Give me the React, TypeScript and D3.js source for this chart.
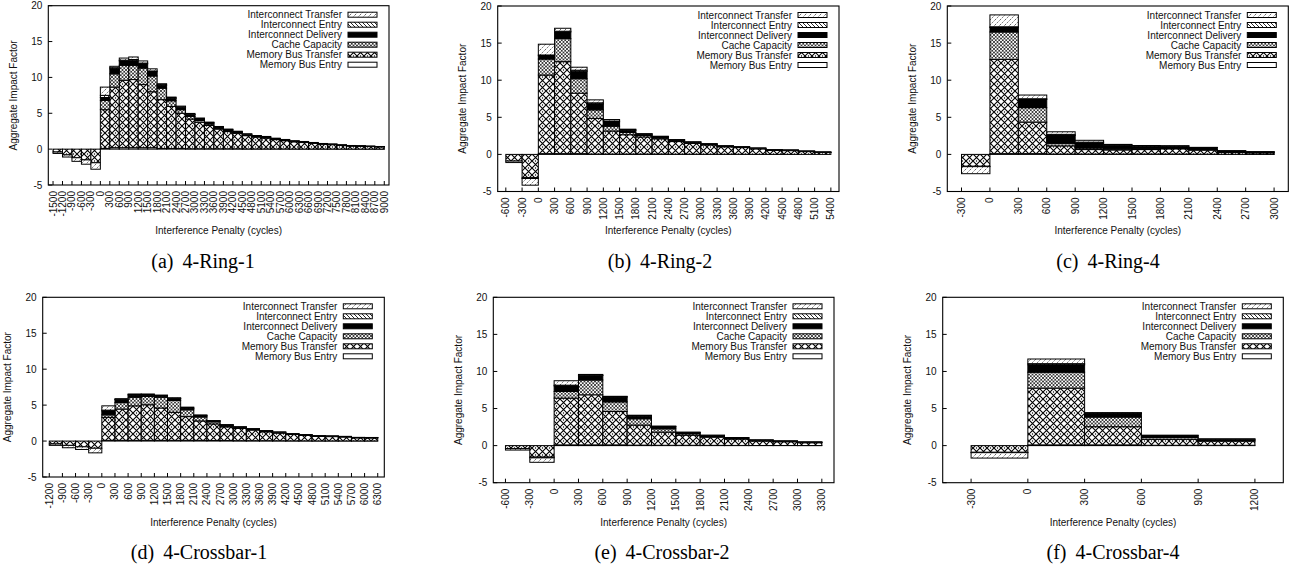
import * as d3 from "d3";

// stacking order, bottom to top
const keys = ["mbe", "mbt", "cc", "id", "ie", "it"];
const legendKeys = ["it", "ie", "id", "cc", "mbt", "mbe"];
const legendNames = [
  "Interconnect Transfer",
  "Interconnect Entry",
  "Interconnect Delivery",
  "Cache Capacity",
  "Memory Bus Transfer",
  "Memory Bus Entry",
];
const yTicks = [-5, 0, 5, 10, 15, 20];

// (a) 4-Ring-1
const ringOneTicks = [-1500, -1200, -900, -600, -300, 0, 300, 600, 900, 1200, 1500, 1800, 2100, 2400, 2700, 3000, 3300, 3600, 3900, 4200, 4500, 4800, 5100, 5400, 5700, 6000, 6300, 6600, 6900, 7200, 7500, 7800, 8100, 8400, 8700, 9000];
const ringOneMbe = [0, 0, 0, 0, 0, 0.1, 0.2, 0.2, 0.2, 0.2, 0.2, 0.1, 0.1, 0.1, 0.05, 0.05, 0.05, 0.05, 0.05, 0.05, 0.03, 0.03, 0.03, 0.03, 0.03, 0.02, 0.02, 0.02, 0.02, 0.02, 0.01, 0.01, 0.01, 0.01, 0.01];
const ringOneMbt = [-0.4, -0.8, -1.2, -1.5, -1.9, 5.4, 8.45, 9.4, 9.5, 8.8, 7.8, 6.8, 5.85, 4.9, 4.15, 3.7, 3.25, 2.75, 2.4, 2.15, 1.85, 1.65, 1.5, 1.3, 1.15, 1.0, 0.9, 0.8, 0.68, 0.6, 0.5, 0.43, 0.4, 0.35, 0.31];
const ringOneCc = [0, 0, 0, 0, 0, 1.3, 1.85, 2.1, 2.0, 2.3, 2.2, 1.6, 0.8, 0.5, 0.35, 0.25, 0.2, 0.15, 0.12, 0.1, 0.1, 0.08, 0.08, 0.07, 0.06, 0.05, 0.05, 0.04, 0.03, 0.03, 0.03, 0.02, 0.02, 0.02, 0.02];
const ringOneId = [0, 0, 0, 0, 0, 0.4, 0.7, 0.6, 0.7, 0.6, 0.6, 0.4, 0.35, 0.3, 0.25, 0.2, 0.15, 0.13, 0.12, 0.1, 0.08, 0.07, 0.07, 0.06, 0.05, 0.05, 0.05, 0.04, 0.03, 0.03, 0.03, 0.03, 0.03, 0.03, 0.02];
const ringOneIe = [0, 0, 0, 0, 0, 0.3, 0.15, 0.1, 0.1, 0.1, 0.1, 0.07, 0.06, 0.05, 0.05, 0.04, 0.04, 0.03, 0.03, 0.03, 0.03, 0.02, 0.02, 0.02, 0.02, 0.02, 0.02, 0.01, 0.01, 0.01, 0.01, 0.01, 0, 0, 0];
const ringOneIt = [-0.2, -0.3, -0.5, -0.6, -0.9, 1.15, 0.2, 0.3, 0.35, 0.3, 0.3, 0.15, 0.1, 0.15, 0.13, 0.1, 0.08, 0.05, 0.08, 0.07, 0.05, 0.05, 0.07, 0.05, 0.04, 0.02, 0.03, 0.02, 0.02, 0.01, 0.02, 0.01, 0.01, 0.01, 0.01];

// (b) 4-Ring-2
const ringTwoTicks = [-600, -300, 0, 300, 600, 900, 1200, 1500, 1800, 2100, 2400, 2700, 3000, 3300, 3600, 3900, 4200, 4500, 4800, 5100, 5400];
const ringTwoMbe = [0, 0, 0.1, 0.1, 0.1, 0.05, 0.05, 0.05, 0.05, 0.05, 0.03, 0.03, 0.02, 0.02, 0.02, 0.01, 0.01, 0.01, 0, 0];
const ringTwoMbt = [-0.9, -3.15, 10.6, 12.4, 8.15, 4.8, 3.1, 2.6, 2.3, 2.05, 1.7, 1.45, 1.25, 1.0, 0.9, 0.74, 0.53, 0.5, 0.38, 0.26];
const ringTwoCc = [0, 0, 2.15, 3.1, 1.95, 1.15, 0.65, 0.3, 0.2, 0.15, 0.1, 0.08, 0.06, 0.05, 0.04, 0.03, 0.03, 0.02, 0.02, 0.02];
const ringTwoId = [0, -0.1, 0.45, 0.9, 1.0, 0.8, 0.6, 0.3, 0.15, 0.12, 0.1, 0.08, 0.07, 0.06, 0.05, 0.05, 0.04, 0.04, 0.03, 0.02];
const ringTwoIe = [0, 0, 0.1, 0.1, 0.15, 0.15, 0.1, 0.05, 0.05, 0.03, 0.03, 0.03, 0.02, 0.02, 0.01, 0.01, 0.01, 0.01, 0.01, 0.01];
const ringTwoIt = [-0.2, -0.9, 1.45, 0.4, 0.4, 0.4, 0.2, 0.1, 0.05, 0.05, 0.04, 0.03, 0.03, 0.02, 0.02, 0.02, 0.01, 0.01, 0.01, 0.01];

// (c) 4-Ring-4
const ringFourTicks = [-300, 0, 300, 600, 900, 1200, 1500, 1800, 2100, 2400, 2700, 3000];
const ringFourMbe = [0, 0.1, 0.1, 0.05, 0.05, 0.05, 0.05, 0.05, 0.03, 0.02, 0.01];
const ringFourMbt = [-1.6, 12.7, 4.25, 1.1, 0.6, 0.55, 0.6, 0.7, 0.55, 0.25, 0.2];
const ringFourCc = [0, 3.7, 1.95, 0.35, 0.2, 0.15, 0.1, 0.1, 0.07, 0.05, 0.03];
const ringFourId = [-0.05, 0.6, 1.1, 1.05, 0.7, 0.45, 0.35, 0.25, 0.25, 0.15, 0.1];
const ringFourIe = [0, 0.1, 0.1, 0.15, 0.1, 0.05, 0.05, 0.03, 0.02, 0.01, 0.01];
const ringFourIt = [-0.95, 1.6, 0.5, 0.35, 0.25, 0.1, 0.05, 0.04, 0.03, 0.02, 0.01];

// (d) 4-Crossbar-1
const crossOneTicks = [-1200, -900, -600, -300, 0, 300, 600, 900, 1200, 1500, 1800, 2100, 2400, 2700, 3000, 3300, 3600, 3900, 4200, 4500, 4800, 5100, 5400, 5700, 6000, 6300];
const crossOneMbe = [0, 0, 0, 0, 0.1, 0.1, 0.1, 0.1, 0.1, 0.1, 0.1, 0.1, 0.08, 0.07, 0.05, 0.05, 0.05, 0.04, 0.03, 0.03, 0.02, 0.02, 0.02, 0.02, 0.02];
const crossOneMbt = [-0.4, -0.6, -0.8, -1.0, 3.2, 4.35, 4.8, 4.95, 4.5, 3.9, 3.3, 2.7, 2.3, 1.9, 1.7, 1.48, 1.23, 1.07, 0.88, 0.76, 0.64, 0.6, 0.55, 0.43, 0.42];
const crossOneCc = [0, 0, 0, 0, 0.35, 0.9, 1.2, 1.15, 1.5, 1.65, 0.95, 0.55, 0.3, 0.15, 0.1, 0.08, 0.07, 0.06, 0.05, 0.04, 0.03, 0.03, 0.03, 0.02, 0.02];
const crossOneId = [0, 0, 0, 0, 0.55, 0.4, 0.3, 0.2, 0.15, 0.25, 0.2, 0.15, 0.1, 0.1, 0.08, 0.07, 0.06, 0.05, 0.04, 0.04, 0.03, 0.03, 0.03, 0.02, 0.02];
const crossOneIe = [0, 0, 0, 0, 0.1, 0.05, 0.05, 0.05, 0.05, 0.03, 0.05, 0.04, 0.03, 0.03, 0.03, 0.02, 0.02, 0.02, 0.01, 0.01, 0.01, 0.01, 0.01, 0.01, 0.01];
const crossOneIt = [-0.2, -0.33, -0.37, -0.64, 0.6, 0.1, 0.1, 0.1, 0.1, 0.1, 0.12, 0.1, 0.04, 0.04, 0.04, 0.03, 0.02, 0.02, 0.02, 0.01, 0.02, 0.01, 0.01, 0.01, 0.01];

// (e) 4-Crossbar-2
const crossTwoTicks = [-600, -300, 0, 300, 600, 900, 1200, 1500, 1800, 2100, 2400, 2700, 3000, 3300];
const crossTwoMbe = [0, 0, 0.1, 0.1, 0.1, 0.07, 0.05, 0.05, 0.04, 0.03, 0.02, 0.02, 0.01];
const crossTwoMbt = [-0.4, -1.55, 6.3, 6.75, 4.5, 2.7, 1.77, 1.35, 1.1, 0.85, 0.6, 0.5, 0.38];
const crossTwoCc = [0, 0, 0.9, 2.0, 1.3, 0.85, 0.45, 0.2, 0.1, 0.07, 0.05, 0.04, 0.03];
const crossTwoId = [0, -0.1, 0.75, 0.6, 0.65, 0.35, 0.25, 0.15, 0.12, 0.1, 0.07, 0.05, 0.05];
const crossTwoIe = [0, 0, 0.1, 0.05, 0.05, 0.05, 0.04, 0.03, 0.02, 0.02, 0.01, 0.01, 0.01];
const crossTwoIt = [-0.2, -0.6, 0.6, 0.1, 0.05, 0.08, 0.08, 0.04, 0.03, 0.02, 0.02, 0.02, 0.02];

// (f) 4-Crossbar-4
const crossFourTicks = [-300, 0, 300, 600, 900, 1200];
const crossFourMbe = [0, 0.1, 0.1, 0.05, 0.05];
const crossFourMbt = [-0.9, 7.65, 2.45, 0.8, 0.55];
const crossFourCc = [0, 2.15, 1.3, 0.25, 0.1];
const crossFourId = [-0.05, 1.0, 0.5, 0.2, 0.15];
const crossFourIe = [0, 0.15, 0.05, 0.05, 0.03];
const crossFourIt = [-0.73, 0.63, 0.05, 0.06, 0.03];

const panels = [
  { tag: "(a)", name: "4-Ring-1", ticks: ringOneTicks, series: [ringOneMbe, ringOneMbt, ringOneCc, ringOneId, ringOneIe, ringOneIt], left: 48.3, right: 389, top: 5.7, bottom: 185, titleY: 234, capX: 203, capY: 268 },
  { tag: "(b)", name: "4-Ring-2", ticks: ringTwoTicks, series: [ringTwoMbe, ringTwoMbt, ringTwoCc, ringTwoId, ringTwoIe, ringTwoIt], left: 497.7, right: 839, top: 6, bottom: 191.5, titleY: 234, capX: 660, capY: 268 },
  { tag: "(c)", name: "4-Ring-4", ticks: ringFourTicks, series: [ringFourMbe, ringFourMbt, ringFourCc, ringFourId, ringFourIe, ringFourIt], left: 947.3, right: 1288.3, top: 6, bottom: 191.5, titleY: 234, capX: 1108, capY: 268 },
  { tag: "(d)", name: "4-Crossbar-1", ticks: crossOneTicks, series: [crossOneMbe, crossOneMbt, crossOneCc, crossOneId, crossOneIe, crossOneIt], left: 42.7, right: 384.3, top: 297.3, bottom: 477, titleY: 526, capX: 199, capY: 559 },
  { tag: "(e)", name: "4-Crossbar-2", ticks: crossTwoTicks, series: [crossTwoMbe, crossTwoMbt, crossTwoCc, crossTwoId, crossTwoIe, crossTwoIt], left: 493.3, right: 834, top: 297.3, bottom: 482.7, titleY: 526, capX: 662, capY: 559 },
  { tag: "(f)", name: "4-Crossbar-4", ticks: crossFourTicks, series: [crossFourMbe, crossFourMbt, crossFourCc, crossFourId, crossFourIe, crossFourIt], left: 942.7, right: 1283.3, top: 297.3, bottom: 482.7, titleY: 526, capX: 1113, capY: 559 },
];

const fills: Record<string, string> = {
  mbe: "#fff",
  mbt: "url(#pat-mbt)",
  cc: "url(#pat-cc)",
  id: "#000",
  ie: "url(#pat-ie)",
  it: "url(#pat-it)",
};

const sans = "'Liberation Sans', Arial, Helvetica, sans-serif";
const fs = 10;

function Panel({ p }: { p: any }) {
  const step = p.ticks[1] - p.ticks[0];
  const x = d3
    .scaleLinear()
    .domain([p.ticks[0] - step / 2, p.ticks[p.ticks.length - 1] + step / 2])
    .range([p.left, p.right]);
  const y = d3.scaleLinear().domain([-5, 20]).range([p.bottom, p.top]);

  const rows = p.ticks.slice(0, -1).map((t: number, i: number) => {
    const r: any = { start: t, end: p.ticks[i + 1] };
    keys.forEach((k, j) => (r[k] = p.series[j][i]));
    return r;
  });
  const stacked = d3.stack<any>().keys(keys).offset(d3.stackOffsetDiverging)(rows);

  const midX = (p.left + p.right) / 2;
  const midY = (p.top + p.bottom) / 2;

  return (
    <g>
      {stacked.map((s) =>
        s.map((d, i) => {
          if (d.data[s.key] === 0) return null;
          const y0 = y(d[0]);
          const y1 = y(d[1]);
          return (
            <rect
              key={s.key + i}
              x={x(d.data.start)}
              width={x(d.data.end) - x(d.data.start)}
              y={Math.min(y0, y1)}
              height={Math.abs(y0 - y1)}
              fill={fills[s.key]}
              stroke="#000"
              strokeWidth={1}
            />
          );
        })
      )}
      <rect x={p.left} y={p.top} width={p.right - p.left} height={p.bottom - p.top} fill="none" stroke="#000" strokeWidth={1.1} />
      {yTicks.map((t) => (
        <g key={t}>
          <line x1={p.left} x2={p.left + 4} y1={y(t)} y2={y(t)} stroke="#000" />
          <text x={p.left - 6} y={y(t)} dy="0.35em" textAnchor="end" fontFamily={sans} fontSize={fs} fill="#111">
            {t}
          </text>
        </g>
      ))}
      {p.ticks.map((t: number) => (
        <g key={t}>
          <line x1={x(t)} x2={x(t)} y1={p.bottom} y2={p.bottom - 4} stroke="#000" />
          <text
            transform={`translate(${x(t)},${p.bottom + 6}) rotate(-90)`}
            dy="0.35em"
            textAnchor="end"
            fontFamily={sans}
            fontSize={fs}
            fill="#111"
          >
            {t}
          </text>
        </g>
      ))}
      <text x={midX} y={p.titleY} textAnchor="middle" fontFamily={sans} fontSize={fs} fill="#111">
        Interference Penalty (cycles)
      </text>
      <text
        transform={`translate(${p.left - 35},${midY}) rotate(-90)`}
        dy="0.35em"
        textAnchor="middle"
        fontFamily={sans}
        fontSize={fs}
        fill="#111"
      >
        Aggregate Impact Factor
      </text>
      {legendKeys.map((k, i) => {
        const ly = p.top + 9 + i * 10;
        return (
          <g key={k}>
            <text x={p.right - 47} y={ly} dy="0.35em" textAnchor="end" fontFamily={sans} fontSize={fs} fill="#111">
              {legendNames[i]}
            </text>
            <rect x={p.right - 41} y={ly - 2.5} width={29} height={5} fill={fills[k]} stroke="#000" strokeWidth={1} />
          </g>
        );
      })}
      <text x={p.capX} y={p.capY} textAnchor="middle" fontFamily="'Liberation Serif', 'Times New Roman', serif" fontSize={20} fill="#000">
        {p.tag}
        <tspan dx={9}>{p.name}</tspan>
      </text>
    </g>
  );
}

export default function App() {
  return (
    <svg
      width={1291}
      height={569}
      style={{ position: "absolute", left: 0, top: 0, background: "#fff" }}
    >
      <defs>
        <pattern id="pat-mbt" width={7} height={7} patternUnits="userSpaceOnUse">
          <rect width={7} height={7} fill="#fff" />
          <path d="M0,0L7,7M7,0L0,7" stroke="#000" strokeWidth={1.1} />
          <circle cx={3.5} cy={0} r={0.7} fill="#000" />
          <circle cx={3.5} cy={7} r={0.7} fill="#000" />
        </pattern>
        <pattern id="pat-cc" width={3.5} height={3.5} patternUnits="userSpaceOnUse">
          <rect width={3.5} height={3.5} fill="#fff" />
          <path d="M0,0L3.5,3.5M3.5,0L0,3.5" stroke="#000" strokeWidth={0.7} />
        </pattern>
        <pattern id="pat-ie" width={4} height={4} patternUnits="userSpaceOnUse">
          <rect width={4} height={4} fill="#fff" />
          <path d="M0,0L4,4M-1,3L1,5M3,-1L5,1" stroke="#000" strokeWidth={0.85} />
        </pattern>
        <pattern id="pat-it" width={5} height={5} patternUnits="userSpaceOnUse">
          <rect width={5} height={5} fill="#fff" />
          <path d="M0,5L5,0M-1,1L1,-1M4,6L6,4" stroke="#000" strokeWidth={0.6} strokeDasharray="1.5,1" />
        </pattern>
      </defs>
      {panels.map((p) => (
        <Panel key={p.tag} p={p} />
      ))}
    </svg>
  );
}
